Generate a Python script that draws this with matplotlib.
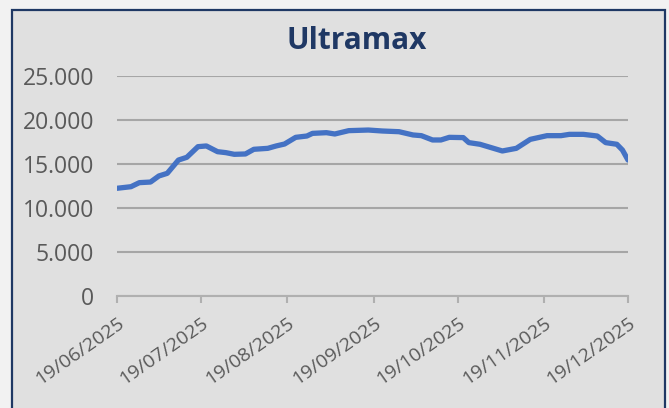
import matplotlib
matplotlib.use("Agg")
import matplotlib.pyplot as plt
import matplotlib.dates as mdates
from matplotlib.patches import Rectangle
from matplotlib.ticker import FuncFormatter, MultipleLocator
import pandas as pd

dates = ["2025-06-19", "2025-06-24", "2025-06-27", "2025-07-01", "2025-07-04",
         "2025-07-07", "2025-07-11", "2025-07-14", "2025-07-18", "2025-07-21",
         "2025-07-25", "2025-07-28", "2025-07-31", "2025-08-04", "2025-08-07",
         "2025-08-12", "2025-08-15", "2025-08-18", "2025-08-22", "2025-08-26",
         "2025-08-28", "2025-09-02", "2025-09-05", "2025-09-10", "2025-09-17",
         "2025-09-22", "2025-09-28", "2025-10-03", "2025-10-06", "2025-10-10",
         "2025-10-13", "2025-10-16", "2025-10-21", "2025-10-23", "2025-10-27",
         "2025-10-31", "2025-11-04", "2025-11-09", "2025-11-14", "2025-11-20",
         "2025-11-25", "2025-11-28", "2025-12-03", "2025-12-08", "2025-12-11",
         "2025-12-15", "2025-12-17", "2025-12-19"]
values = [12240, 12420, 12880, 12950, 13640, 13940, 15450, 15760, 16970, 17050,
          16400, 16290, 16100, 16140, 16670, 16780, 17050, 17270, 18030, 18180,
          18480, 18560, 18410, 18790, 18860, 18750, 18670, 18300, 18220, 17730,
          17730, 18030, 18000, 17430, 17240, 16860, 16480, 16780, 17800, 18220,
          18220, 18370, 18370, 18180, 17430, 17240, 16590, 15450]
tick_dates = ["2025-06-19", "2025-07-19", "2025-08-19", "2025-09-19",
              "2025-10-19", "2025-11-19", "2025-12-19"]
title = "Ultramax"

x = pd.to_datetime(dates)
ticks = pd.to_datetime(tick_dates)

fig = plt.figure(figsize=(6.69, 4.08), dpi=100)
fig.patch.set_facecolor("#f2f2f2")
panel = Rectangle((12 / 669, -0.05), (665 - 12) / 669, 1 - 10 / 408 + 0.05,
                  transform=fig.transFigure, facecolor="#e0e0e0",
                  edgecolor="#1f3864", linewidth=1.6, zorder=-10)
fig.patches.append(panel)

ax = fig.add_axes([117 / 669, 1 - 296 / 408, (628 - 117) / 669, (296 - 76) / 408])
ax.set_zorder(5)
ax.set_facecolor("none")
ax.plot(x, values, color="#4472c4", linewidth=3.8, solid_joinstyle="round",
        solid_capstyle="round", zorder=3)

ax.set_ylim(0, 25000)
ax.set_xlim(ticks[0], ticks[-1])
ax.yaxis.set_major_locator(MultipleLocator(5000))
ax.yaxis.set_major_formatter(FuncFormatter(lambda v, p: f"{int(v):,}".replace(",", ".")))
ax.set_xticks(ticks)
ax.xaxis.set_major_formatter(mdates.DateFormatter("%d/%m/%Y"))

ax.grid(axis="y", color="#a6a6a6", linewidth=1.5)
ax.set_axisbelow(True)
for s in ["top", "right", "left"]:
    ax.spines[s].set_visible(False)
ax.spines["bottom"].set_color("#b0b0b0")
ax.spines["bottom"].set_linewidth(1.5)
ax.tick_params(axis="y", length=0, pad=16.5, labelsize=16.5, labelcolor="#595959")
ax.tick_params(axis="x", length=5, width=1.5, color="#b0b0b0", pad=8,
               labelsize=14, labelcolor="#595959")
for lab in ax.get_xticklabels():
    lab.set_rotation(35)
    lab.set_ha("right")
    lab.set_rotation_mode("anchor")
for lab in ax.get_xticklabels() + ax.get_yticklabels():
    lab.set_fontfamily("Open Sans")

t = fig.text(357 / 669, 1 - 41 / 408, title, ha="center", va="center",
             fontsize=21.5, fontweight="bold", color="#1f3864", family="Open Sans")
t.set_zorder(6)

fig.savefig("out.png", dpi=100, facecolor=fig.get_facecolor())
